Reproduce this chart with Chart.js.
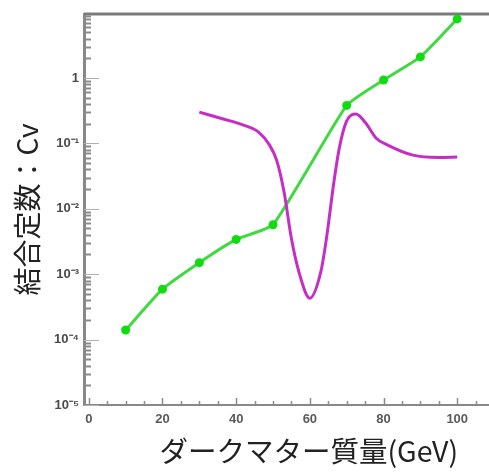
<!DOCTYPE html>
<html>
<head>
<meta charset="utf-8">
<script src="https://cdn.jsdelivr.net/npm/chart.js@4.4.1/dist/chart.umd.min.js"></script>
<style>
  html, body { margin: 0; padding: 0; background: #fff; overflow: hidden; }
  #wrap { width: 489px; height: 472px; overflow: hidden; }
  canvas { display: block; }
</style>
</head>
<body>
<div id="wrap"><canvas id="c" width="538" height="472"></canvas></div>
<script>
// ── データ：ダークマター質量 (GeV) vs 結合定数 Cv ──
const massGreen = [10, 20, 30, 40, 50, 70, 80, 90, 100];
const cvGreen   = [1.4e-4, 5.9e-4, 1.5e-3, 3.4e-3, 5.7e-3, 0.38, 0.93, 2.1, 8.0];

const massPink = [30, 36, 42, 46, 49, 51, 53, 55, 57, 60, 63, 64.5, 66.5, 68, 70, 72.5, 75, 78, 81, 88, 95, 100];
const cvPink   = [0.30, 0.24, 0.19, 0.15, 0.095, 0.055, 0.018, 0.0035, 0.0011, 0.00043, 0.0011, 0.0035,
                  0.025, 0.085, 0.22, 0.28, 0.21, 0.12, 0.095, 0.066, 0.061, 0.062];

const xTickValues = [0, 20, 40, 60, 80, 100];
const yTickValues = [1e-5, 1e-4, 1e-3, 1e-2, 1e-1, 1];
const yTickLabels = ["10⁻⁵", "10⁻⁴", "10⁻³", "10⁻²", "10⁻¹", "1"];

const toPoints = (xs, ys) => xs.map((x, i) => ({ x, y: ys[i] }));

// ── 内向きの目盛りと上枠 ───────────────────────────
const frameTicks = {
  id: "frameTicks",
  beforeDatasetsDraw(chart) {
    const { ctx, chartArea: a, scales: { x, y } } = chart;
    ctx.save();
    ctx.strokeStyle = "#7a7a7a";
    ctx.lineWidth = 3;
    ctx.beginPath();
    ctx.moveTo(a.left, a.top);
    ctx.lineTo(a.right, a.top);
    ctx.stroke();

    // x: 5 刻み、20 ごとに長め
    ctx.strokeStyle = "#8a8a8a";
    ctx.lineWidth = 1.5;
    for (let v = 0; v <= x.max; v += 5) {
      const px = Math.round(x.getPixelForValue(v)) + 0.5;
      const len = v % 20 === 0 ? 7 : 4;
      ctx.beginPath();
      ctx.moveTo(px, a.bottom);
      ctx.lineTo(px, a.bottom - len);
      ctx.stroke();
    }

    // y: 対数の補助目盛り
    for (let e = -5; e <= 0; e++) {
      for (let m = 1; m <= 9; m++) {
        const v = m * Math.pow(10, e);
        if (v > y.max) break;
        const py = Math.round(y.getPixelForValue(v)) + 0.5;
        if (m === 1) {
          ctx.strokeStyle = "#b0b0b0"; ctx.lineWidth = 1;
          ctx.beginPath(); ctx.moveTo(a.left, py); ctx.lineTo(a.left + 15, py); ctx.stroke();
        } else {
          ctx.strokeStyle = "#8a8a8a"; ctx.lineWidth = 2;
          ctx.beginPath(); ctx.moveTo(a.left, py); ctx.lineTo(a.left + 7, py); ctx.stroke();
        }
      }
    }
    ctx.restore();
  },
};

new Chart(document.getElementById("c"), {
  type: "line",
  data: {
    datasets: [
      {
        data: toPoints(massPink, cvPink),
        borderColor: "#c62cc6",
        borderWidth: 3,
        pointRadius: 0,
        cubicInterpolationMode: "monotone",
      },
      {
        data: toPoints(massGreen, cvGreen),
        borderColor: "#40da40",
        borderWidth: 3,
        pointRadius: 4.5,
        pointBackgroundColor: "#10dd10",
        pointBorderWidth: 0,
        tension: 0.15,
      },
    ],
  },
  plugins: [frameTicks],
  options: {
    responsive: false,
    animation: false,
    layout: { padding: { top: 14, left: 0, right: 0, bottom: 0 } },
    plugins: { legend: { display: false }, tooltip: { enabled: false } },
    scales: {
      x: {
        type: "linear",
        min: -1.3,
        max: 120.7,
        grid: { display: false, drawTicks: false },
        border: { color: "#888", width: 2 },
        afterBuildTicks: s => { s.ticks = xTickValues.map(value => ({ value })); },
        afterFit: s => { s.height = 67; },
        ticks: {
          autoSkip: false,
          maxRotation: 0,
          padding: 7,
          color: "#5a5a5a",
          font: { family: "Liberation Sans", size: 13, weight: "bold" },
        },
        title: {
          display: true,
          text: "ダークマター質量(GeV)",
          color: "#222",
          font: { family: "Noto Sans CJK JP", size: 28.5 },
          padding: { top: 0, bottom: 4 },
        },
      },
      y: {
        type: "logarithmic",
        min: 1e-5,
        max: 9.5,
        grid: { display: false, drawTicks: false },
        border: { color: "#888", width: 3 },
        afterBuildTicks: s => { s.ticks = yTickValues.map(value => ({ value })); },
        afterFit: s => { s.width = 84; },
        ticks: {
          autoSkip: false,
          padding: 5,
          color: "#4a4a4a",
          font: { family: "Liberation Sans", size: 13, weight: "bold" },
          callback: v => yTickLabels[yTickValues.indexOf(v)] ?? "",
        },
        title: {
          display: true,
          text: "結合定数：Cv",
          color: "#222",
          font: { family: "Noto Sans CJK JP", size: 28 },
          padding: { top: 11, bottom: 0 },
        },
      },
    },
  },
});
</script>
</body>
</html>
